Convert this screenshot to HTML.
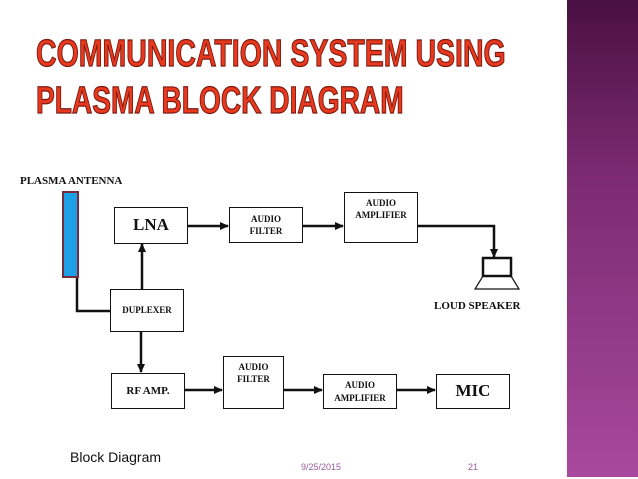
<!DOCTYPE html>
<html><head><style>
body{margin:0;width:638px;height:479px;background:#fff;position:relative;overflow:hidden;font-family:"Liberation Serif",serif}
.bar{position:absolute;left:567px;top:0;width:71px;height:477px;background:linear-gradient(#4a1042,#7a2a70 35%,#a8489e)}
.t{position:absolute;left:36px;font-family:"Liberation Sans",sans-serif;font-weight:bold;font-size:38px;line-height:1;color:#e8381e;-webkit-text-stroke:1.2px #7a1a10;transform-origin:0 0;transform:scaleX(0.75);white-space:nowrap}
.b{position:absolute;border:1.5px solid #111;box-sizing:border-box;text-align:center;font-weight:bold;color:#111;display:flex;align-items:center;justify-content:center;flex-direction:column;line-height:1.35}
.s{font-size:9px}
.l{position:absolute;font-weight:bold;font-size:11px;color:#111;white-space:nowrap}
.f{position:absolute;font-family:"Liberation Sans",sans-serif;white-space:nowrap}
</style></head><body>
<div class="bar"></div>
<div class="t" style="top:35px">COMMUNICATION SYSTEM USING</div>
<div class="t" style="top:82px;transform:scaleX(0.74)">PLASMA BLOCK DIAGRAM</div>

<svg width="638" height="479" style="position:absolute;left:0;top:0">
<defs><marker id="a" markerUnits="userSpaceOnUse" markerWidth="9" markerHeight="8" refX="8" refY="4" orient="auto"><path d="M0,0 L9,4 L0,8z" fill="#111"/></marker></defs>
<g stroke="#111" stroke-width="2.5" fill="none">
<polyline points="77,277 77,311 110,311"/>
<line x1="187" y1="226" x2="228" y2="226" marker-end="url(#a)"/>
<line x1="302" y1="226" x2="343" y2="226" marker-end="url(#a)"/>
<polyline points="417,226 494,226 494,257" marker-end="url(#a)"/>
<line x1="142" y1="289" x2="142" y2="244" marker-end="url(#a)"/>
<line x1="141" y1="332" x2="141" y2="372" marker-end="url(#a)"/>
<line x1="184" y1="390" x2="222" y2="390" marker-end="url(#a)"/>
<line x1="283" y1="390" x2="322" y2="390" marker-end="url(#a)"/>
<line x1="397" y1="390" x2="435" y2="390" marker-end="url(#a)"/>
<rect x="483" y="258" width="28" height="18" stroke-width="2.5"/>
<polygon points="483,276 511,276 519,289 475,289" stroke-width="1.2"/>
</g>
<rect x="63" y="192" width="15" height="85" fill="#1ea0e6" stroke="#7a2a3a" stroke-width="2"/>
</svg>

<div class="l" style="left:20px;top:175px">PLASMA ANTENNA</div>
<div class="b" style="left:114px;top:207px;width:74px;height:37px;font-size:17px">LNA</div>
<div class="b s" style="left:229px;top:207px;width:74px;height:36px">AUDIO<br>FILTER</div>
<div class="b s" style="left:344px;top:192px;width:74px;height:51px;justify-content:flex-start;padding-top:4px">AUDIO<br>AMPLIFIER</div>
<div class="b s" style="left:110px;top:289px;width:74px;height:43px">DUPLEXER</div>
<div class="b" style="left:111px;top:373px;width:74px;height:36px;font-size:11px">RF AMP.</div>
<div class="b s" style="left:223px;top:356px;width:61px;height:53px;justify-content:flex-start;padding-top:4px">AUDIO<br>FILTER</div>
<div class="b s" style="left:323px;top:374px;width:74px;height:35px">AUDIO<br>AMPLIFIER</div>
<div class="b" style="left:436px;top:374px;width:74px;height:35px;font-size:17px">MIC</div>
<div class="l" style="left:434px;top:300px">LOUD SPEAKER</div>

<div class="f" style="left:70px;top:449px;font-size:14px;color:#111">Block Diagram</div>
<div class="f" style="left:301px;top:462px;font-size:9px;color:#9a5a9a">9/25/2015</div>
<div class="f" style="left:468px;top:462px;font-size:9px;color:#9a5a9a">21</div>
</body></html>
